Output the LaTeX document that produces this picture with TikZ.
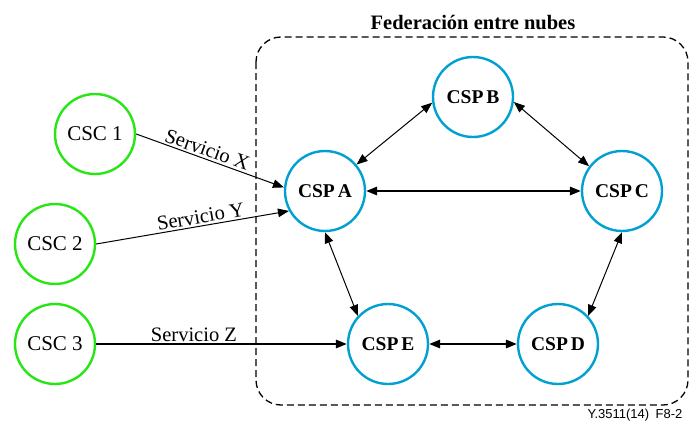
\documentclass[tikz,border=0pt]{standalone}
\usepackage{fontspec}
\setmainfont{Liberation Serif}
\newfontfamily\tagfont{Liberation Sans}
\usetikzlibrary{arrows.meta}

\definecolor{cscgreen}{RGB}{40,230,20}
\definecolor{cspblue}{RGB}{0,160,210}

\tikzset{
	csc/.style={circle, draw=cscgreen, line width=2.4pt, minimum size=80pt, inner sep=0pt,
		font=\fontsize{21}{24}\selectfont},
	csp/.style={circle, draw=cspblue, line width=2.4pt, minimum size=80pt, inner sep=0pt,
		font=\bfseries\fontsize{19.5}{24}\selectfont},
	feed/.style={-{Triangle[length=11pt,width=8.5pt]}, line width=1pt},
	link/.style={{Triangle[length=11pt,width=8.5pt]}-{Triangle[length=11pt,width=8.5pt]}, line width=1pt},
	wide/.style={line width=1.6pt},
	svc/.style={font=\fontsize{20.5}{24}\selectfont, sloped, above, inner sep=2pt},
}

\begin{document}
\begin{tikzpicture}[x=1pt, y=-1pt]
		\useasboundingbox (0,0) rectangle (689,423);

		% federation frame and its title
		\draw [dashed, dash pattern=on 7pt off 4pt, line width=1.3pt, rounded corners=25pt]
			(256,37) rectangle (688,405);
		\node [font=\bfseries\fontsize{20.5}{24}\selectfont, anchor=base] (title) at (473,30) {Federación entre nubes};

		% customers
		\node [csc] (csc1) at (95,134) {CSC 1};
		\node [csc] (csc2) at (55,244) {CSC 2};
		\node [csc] (csc3) at (55,344) {CSC 3};

		% providers, pentagon
		\node [csp] (cspa) at (325,191) {CSP\kern0.15em A};
		\node [csp] (cspb) at (473,97) {CSP\kern0.15em B};
		\node [csp] (cspc) at (622,191) {CSP\kern0.15em C};
		\node [csp] (cspd) at (558,344) {CSP\kern0.15em D};
		\node [csp] (cspe) at (388,344) {CSP\kern0.15em E};

		% services offered to the customers
		\draw [feed] (csc1.east) -- node [svc, pos=0.46] {Servicio X} (cspa.175);
		\draw [feed] (csc2.east) -- node [svc, pos=0.55] {Servicio Y} (cspa.209);
		\draw [feed, wide] (csc3.east) -- node [svc, pos=0.39] {Servicio Z} (cspe.west);

		% links between providers
		\draw [link] (cspa.40) -- (cspb.188);
		\draw [link] (cspb.353) -- (cspc.143);
		\draw [link, wide] (cspa.east) -- (cspc.west);
		\draw [link] (cspa.south) -- (cspe.137);
		\draw [link] (cspc.south) -- (cspd.43);
		\draw [link, wide] (cspe.east) -- (cspd.west);

		\node [font=\tagfont\fontsize{13}{15}\selectfont, anchor=base east] (tag) at (686,418) {Y.3511(14)\enspace F8-2};
	\end{tikzpicture}
\end{document}
